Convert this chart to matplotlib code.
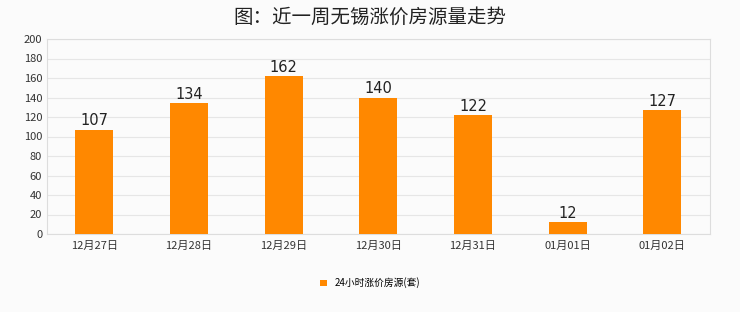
import matplotlib
matplotlib.use('Agg')
import matplotlib.pyplot as plt
import numpy as np

plt.rcParams['font.family'] = ['Noto Sans CJK SC', 'DejaVu Sans']

dates = ['12月27日', '12月28日', '12月29日', '12月30日', '12月31日', '01月01日', '01月02日']
counts = [107, 134, 162, 140, 122, 12, 127]
series_name = '24小时涨价房源(套)'

bg = '#fbfbfb'
fig = plt.figure(figsize=(7.4, 3.12), dpi=100, facecolor=bg)
ax = fig.add_axes([0.0635, 0.25, 0.8955, 0.625], facecolor=bg)

x = np.arange(len(dates))
bars = ax.bar(x, counts, width=0.4, color='#ff8800', label=series_name, zorder=3)
for xi, v in zip(x, counts):
    ax.text(xi, v + 1.5, str(v), ha='center', va='bottom', fontsize=10.5,
            family='DejaVu Sans', color='#222222', zorder=4)

ax.set_xlim(-0.5, len(dates) - 0.5)
ax.set_ylim(0, 200)
ax.set_yticks(range(0, 201, 20))
ax.set_xticks(x)
ax.set_xticklabels(dates)
ax.tick_params(axis='both', length=0, labelsize=8, colors='#333333')
ax.tick_params(axis='x', pad=5)
ax.grid(axis='y', color='#e6e6e6', linewidth=0.8, zorder=0)
for s in ax.spines.values():
    s.set_color('#dddddd')
    s.set_linewidth(0.8)

fig.text(0.5, 0.945, '图：近一周无锡涨价房源量走势', ha='center', va='center',
         fontsize=14, fontweight='medium', color='#222222')

fig.legend(handles=[bars], labels=[series_name], loc='center', bbox_to_anchor=(0.5, 0.093),
           frameon=False, fontsize=7, handlelength=0.7, handleheight=0.7, handletextpad=0.8)

fig.savefig('out.png', dpi=100, facecolor=bg)
